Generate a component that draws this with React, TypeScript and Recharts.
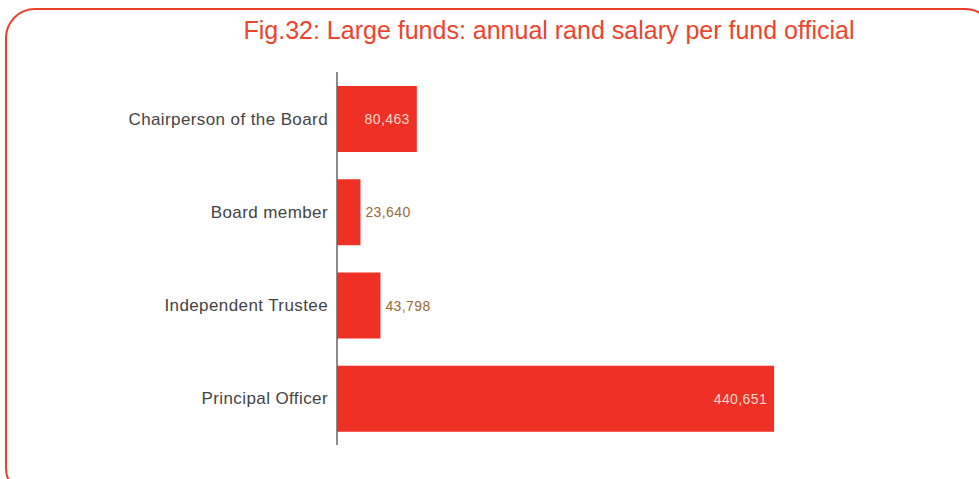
import React from 'react';
import { BarChart, Bar, XAxis, YAxis, LabelList } from 'recharts';

const categories = ['Chairperson of the Board', 'Board member', 'Independent Trustee', 'Principal Officer'];
const salaries = [80463, 23640, 43798, 440651];

const data = categories.map((name, i) => ({ name, salary: salaries[i] }));

const RED = '#ee3124';
const FONT = '"Liberation Sans", Arial, Helvetica, sans-serif';

const fmt = (v: number) => v.toLocaleString('en-US');

// value labels sit inside the wide bars, outside the short ones
const ValueLabel = (props: any) => {
  const { x, y, width, height, value } = props;
  const inside = width > 60;
  return (
    <text
      x={inside ? x + width - 7 : x + width + 5}
      y={y + height / 2}
      dy={5}
      textAnchor={inside ? 'end' : 'start'}
      fill={inside ? '#fcd9cf' : '#9a6a36'}
      fontSize={14}
      letterSpacing={0.4}
      fontFamily={FONT}
    >
      {fmt(value)}
    </text>
  );
};

export default function App() {
  return (
    <div style={{ position: 'fixed', left: 0, top: 0, width: 979, height: 479, overflow: 'hidden', background: '#fff' }}>
      <div
        style={{
          position: 'absolute',
          left: 5,
          top: 8,
          width: 990,
          height: 490,
          border: '2px solid #ea3f2c',
          borderRadius: 30,
          boxSizing: 'border-box',
        }}
      />
      <div
        style={{
          position: 'absolute',
          left: 0,
          top: 16,
          width: 1098,
          textAlign: 'center',
          fontFamily: FONT,
          fontSize: 25,
          color: '#ec452e',
        }}
      >
        Fig.32: Large funds: annual rand salary per fund official
      </div>
      <div style={{ position: 'absolute', left: 0, top: 0 }}>
        <BarChart
          width={979}
          height={479}
          data={data}
          layout="vertical"
          margin={{ top: 72, right: 146, bottom: 34, left: 0 }}
          barSize={66}
        >
          <XAxis type="number" domain={[0, 500000]} hide />
          <YAxis
            type="category"
            dataKey="name"
            width={337}
            axisLine={{ stroke: '#666', strokeWidth: 1.5 }}
            tickLine={false}
            tickSize={0}
            tickMargin={9}
            tick={{ fill: '#444', fontSize: 17, fontFamily: FONT, letterSpacing: 0.4 }}
          />
          <Bar dataKey="salary" fill={RED} isAnimationActive={false}>
            <LabelList dataKey="salary" content={ValueLabel} />
          </Bar>
        </BarChart>
      </div>
    </div>
  );
}
